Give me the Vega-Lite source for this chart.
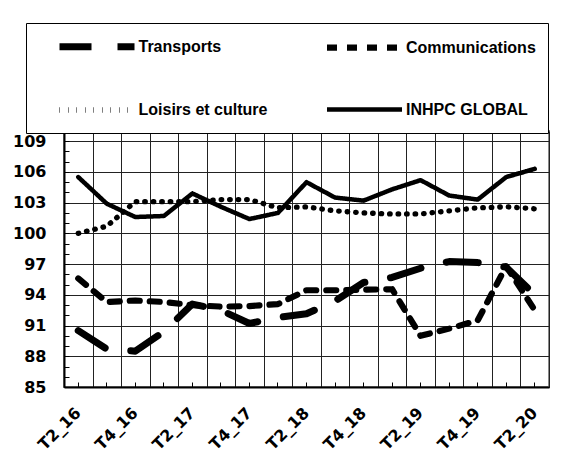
{
  "$schema": "https://vega.github.io/schema/vega-lite/v6.json",
  "width": 485,
  "height": 256,
  "autosize": {"type": "none"},
  "padding": {"left": 64, "top": 131, "right": 12, "bottom": 67},
  "background": "white",
  "config": {
    "font": "Liberation Sans",
    "view": {"stroke": "#888888", "strokeWidth": 2}
  },
  "data": {
    "values": [
      {"periode": "T2_16", "serie": "INHPC GLOBAL", "valeur": 105.5},
      {"periode": "T3_16", "serie": "INHPC GLOBAL", "valeur": 102.9},
      {"periode": "T4_16", "serie": "INHPC GLOBAL", "valeur": 101.6},
      {"periode": "T1_17", "serie": "INHPC GLOBAL", "valeur": 101.7},
      {"periode": "T2_17", "serie": "INHPC GLOBAL", "valeur": 103.9},
      {"periode": "T3_17", "serie": "INHPC GLOBAL", "valeur": 102.6},
      {"periode": "T4_17", "serie": "INHPC GLOBAL", "valeur": 101.4},
      {"periode": "T1_18", "serie": "INHPC GLOBAL", "valeur": 102.0},
      {"periode": "T2_18", "serie": "INHPC GLOBAL", "valeur": 105.0},
      {"periode": "T3_18", "serie": "INHPC GLOBAL", "valeur": 103.5},
      {"periode": "T4_18", "serie": "INHPC GLOBAL", "valeur": 103.2},
      {"periode": "T1_19", "serie": "INHPC GLOBAL", "valeur": 104.3},
      {"periode": "T2_19", "serie": "INHPC GLOBAL", "valeur": 105.2},
      {"periode": "T3_19", "serie": "INHPC GLOBAL", "valeur": 103.7},
      {"periode": "T4_19", "serie": "INHPC GLOBAL", "valeur": 103.3},
      {"periode": "T1_20", "serie": "INHPC GLOBAL", "valeur": 105.5},
      {"periode": "T2_20", "serie": "INHPC GLOBAL", "valeur": 106.3},
      {"periode": "T2_16", "serie": "Loisirs et culture", "valeur": 100.0},
      {"periode": "T3_16", "serie": "Loisirs et culture", "valeur": 100.7},
      {"periode": "T4_16", "serie": "Loisirs et culture", "valeur": 103.1},
      {"periode": "T1_17", "serie": "Loisirs et culture", "valeur": 103.1},
      {"periode": "T2_17", "serie": "Loisirs et culture", "valeur": 103.1},
      {"periode": "T3_17", "serie": "Loisirs et culture", "valeur": 103.3},
      {"periode": "T4_17", "serie": "Loisirs et culture", "valeur": 103.3},
      {"periode": "T1_18", "serie": "Loisirs et culture", "valeur": 102.5},
      {"periode": "T2_18", "serie": "Loisirs et culture", "valeur": 102.6},
      {"periode": "T3_18", "serie": "Loisirs et culture", "valeur": 102.2},
      {"periode": "T4_18", "serie": "Loisirs et culture", "valeur": 102.0},
      {"periode": "T1_19", "serie": "Loisirs et culture", "valeur": 101.9},
      {"periode": "T2_19", "serie": "Loisirs et culture", "valeur": 101.9},
      {"periode": "T3_19", "serie": "Loisirs et culture", "valeur": 102.2},
      {"periode": "T4_19", "serie": "Loisirs et culture", "valeur": 102.5},
      {"periode": "T1_20", "serie": "Loisirs et culture", "valeur": 102.6},
      {"periode": "T2_20", "serie": "Loisirs et culture", "valeur": 102.4},
      {"periode": "T2_16", "serie": "Communications", "valeur": 95.6},
      {"periode": "T3_16", "serie": "Communications", "valeur": 93.3},
      {"periode": "T4_16", "serie": "Communications", "valeur": 93.45},
      {"periode": "T1_17", "serie": "Communications", "valeur": 93.3},
      {"periode": "T2_17", "serie": "Communications", "valeur": 93.0},
      {"periode": "T3_17", "serie": "Communications", "valeur": 92.85},
      {"periode": "T4_17", "serie": "Communications", "valeur": 92.9},
      {"periode": "T1_18", "serie": "Communications", "valeur": 93.1},
      {"periode": "T2_18", "serie": "Communications", "valeur": 94.45},
      {"periode": "T3_18", "serie": "Communications", "valeur": 94.45},
      {"periode": "T4_18", "serie": "Communications", "valeur": 94.5},
      {"periode": "T1_19", "serie": "Communications", "valeur": 94.55},
      {"periode": "T2_19", "serie": "Communications", "valeur": 90.0},
      {"periode": "T3_19", "serie": "Communications", "valeur": 90.7},
      {"periode": "T4_19", "serie": "Communications", "valeur": 91.5},
      {"periode": "T1_20", "serie": "Communications", "valeur": 96.8},
      {"periode": "T2_20", "serie": "Communications", "valeur": 92.5},
      {"periode": "T2_16", "serie": "Transports", "valeur": 90.5},
      {"periode": "T3_16", "serie": "Transports", "valeur": 88.7},
      {"periode": "T4_16", "serie": "Transports", "valeur": 88.5},
      {"periode": "T1_17", "serie": "Transports", "valeur": 90.4},
      {"periode": "T2_17", "serie": "Transports", "valeur": 93.1},
      {"periode": "T3_17", "serie": "Transports", "valeur": 92.5},
      {"periode": "T4_17", "serie": "Transports", "valeur": 91.2},
      {"periode": "T1_18", "serie": "Transports", "valeur": 91.8},
      {"periode": "T2_18", "serie": "Transports", "valeur": 92.15},
      {"periode": "T3_18", "serie": "Transports", "valeur": 93.4},
      {"periode": "T4_18", "serie": "Transports", "valeur": 95.2},
      {"periode": "T1_19", "serie": "Transports", "valeur": 95.7},
      {"periode": "T2_19", "serie": "Transports", "valeur": 96.6},
      {"periode": "T3_19", "serie": "Transports", "valeur": 97.25},
      {"periode": "T4_19", "serie": "Transports", "valeur": 97.15},
      {"periode": "T1_20", "serie": "Transports", "valeur": 96.7},
      {"periode": "T2_20", "serie": "Transports", "valeur": 94.0}
    ]
  },
  "encoding": {
    "y": {
      "field": "valeur",
      "type": "quantitative",
      "scale": {"domain": [85, 110], "nice": false, "zero": false},
      "axis": {
        "title": null,
        "values": [85, 86, 87, 88, 89, 90, 91, 92, 93, 94, 95, 96, 97, 98, 99, 100, 101, 102, 103, 104, 105, 106, 107, 108, 109],
        "grid": true,
        "gridColor": "#222222",
        "gridWidth": 1,
        "gridOpacity": {"condition": {"test": "datum.value % 3 === 1", "value": 1}, "value": 0},
        "labelExpr": "datum.value % 3 === 1 ? datum.label : ''",
        "labelFont": "DejaVu Sans",
        "labelFontSize": 16,
        "labelFontWeight": "bold",
        "labelColor": "black",
        "labelPadding": 23,
        "tickSize": -5,
        "tickColor": "black",
        "domainColor": "black",
        "domainWidth": 2
      }
    }
  },
  "layer": [
    {
      "mark": {"type": "line", "opacity": 0},
      "encoding": {
        "x": {
          "field": "periode",
          "type": "nominal",
          "sort": null,
          "bandPosition": 0.5,
          "scale": {"type": "band", "paddingInner": 0, "paddingOuter": 0},
          "axis": {
            "orient": "bottom",
            "title": null,
            "grid": true,
            "tickBand": "extent",
            "gridColor": "#222222",
            "gridWidth": 1,
            "labels": false,
            "ticks": false,
            "domain": false
          }
        },
        "detail": {"field": "serie"}
      }
    },
    {
      "mark": {"type": "line", "color": "black", "strokeCap": "round", "strokeJoin": "round"},
      "encoding": {
        "x": {
          "field": "periode",
          "type": "nominal",
          "sort": null,
          "bandPosition": 0.5,
          "scale": {"type": "band", "paddingInner": 0, "paddingOuter": 0},
          "axis": {
            "orient": "bottom",
            "title": null,
            "grid": false,
            "labelAngle": -45,
            "labelAlign": "right",
            "labelBaseline": "middle",
            "labelFont": "DejaVu Sans",
            "labelFontSize": 16,
            "labelFontWeight": "bold",
            "labelColor": "black",
            "labelOverlap": false,
            "labelExpr": "test(/^T[24]/, datum.label) ? datum.label : ''",
            "labelPadding": 28,
            "tickSize": -5,
            "tickColor": "black",
            "domainColor": "black",
            "domainWidth": 2
          }
        },
        "strokeDash": {
          "field": "serie",
          "type": "nominal",
          "scale": {
            "domain": ["Transports", "Communications", "Loisirs et culture", "INHPC GLOBAL"],
            "range": [[32, 26], [10, 10], [0.5, 8], [1, 0]]
          },
          "legend": {
            "title": null,
            "orient": "none",
            "direction": "horizontal",
            "legendX": -38,
            "legendY": -108,
            "columns": 2,
            "gridAlign": "all",
            "columnPadding": 36.5,
            "rowPadding": 38,
            "padding": 12,
            "strokeColor": "black",
            "fillColor": "white",
            "symbolType": "M-4.6875,0H4.6875",
            "symbolSize": 256,
            "symbolOffset": 47.5,
            "symbolStrokeColor": "black",
            "labelFontSize": 16,
            "labelFontWeight": "bold",
            "labelColor": "black",
            "labelOffset": 30,
            "labelLimit": 300
          }
        },
        "strokeWidth": {
          "field": "serie",
          "type": "nominal",
          "scale": {
            "domain": ["Transports", "Communications", "Loisirs et culture", "INHPC GLOBAL"],
            "range": [7, 4.5, 3, 8]
          },
          "legend": {
            "title": null,
            "orient": "none",
            "direction": "horizontal",
            "legendX": -38,
            "legendY": -108,
            "columns": 2,
            "gridAlign": "all",
            "columnPadding": 36.5,
            "rowPadding": 38,
            "padding": 12,
            "strokeColor": "black",
            "fillColor": "white",
            "symbolType": "M-4.6875,0H4.6875",
            "symbolSize": 256,
            "symbolOffset": 47.5,
            "symbolStrokeColor": "black",
            "labelFontSize": 16,
            "labelFontWeight": "bold",
            "labelColor": "black",
            "labelOffset": 30,
            "labelLimit": 300
          }
        }
      }
    }
  ],
  "resolve": {"axis": {"x": "independent"}}
}
